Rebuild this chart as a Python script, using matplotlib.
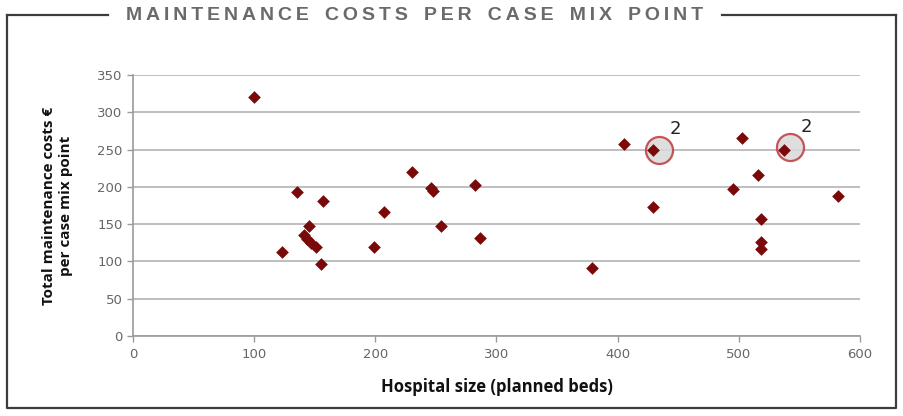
import matplotlib
matplotlib.use("Agg")
import matplotlib.pyplot as plt
from matplotlib.lines import Line2D

# hospital size (planned beds) vs maintenance cost per case mix point
beds = [100, 123, 135, 141, 145, 144, 147, 151, 157, 155, 199, 207, 230, 246, 248, 254,
        282, 286, 379, 405, 429, 429, 495, 503, 516, 518, 518, 518, 537, 582]
cost = [321, 112, 193, 135, 148, 130, 125, 120, 181, 96, 120, 166, 220, 199, 195, 148,
        203, 131, 91, 257, 249, 173, 197, 266, 216, 157, 126, 116, 249, 188]
# points that stand for two hospitals
dup_x = [434, 542]
dup_y = [250, 253]
dup_label = ["2", "2"]

TITLE = "MAINTENANCE COSTS PER CASE MIX POINT"

RED = "#7a0a0a"
GRID = "#b4b4b4"
TICK = "#666666"

fig = plt.figure(figsize=(9.04, 4.16), dpi=100)
ax = fig.add_axes([133/904, 1 - 336/416, 727/904, 261/416])

ax.set_xlim(0, 600); ax.set_ylim(0, 350)
ax.set_yticks(range(0, 351, 50)); ax.set_xticks(range(0, 601, 100))
ax.grid(axis="y", color=GRID, lw=1.2)
ax.set_axisbelow(True)
for s in ("top", "right"):
    ax.spines[s].set_visible(False)
for s in ("left", "bottom"):
    ax.spines[s].set_color("#9a9a9a"); ax.spines[s].set_linewidth(1.2)
ax.tick_params(colors="#9a9a9a", labelcolor=TICK, labelsize=9.5, length=4, width=1)
ax.tick_params(axis="x", pad=5)

ax.scatter(dup_x, dup_y, s=380, facecolor="#d9d9d9", edgecolor="#c0393b", lw=1.6, zorder=2, alpha=0.85)
ax.scatter(beds, cost, marker="D", s=42, color=RED, zorder=3, linewidths=0)
for x, y, t in zip(dup_x, dup_y, dup_label):
    ax.annotate(t, (x, y), xytext=(8, 8), textcoords="offset points", fontsize=13,
                color="#222222", ha="left", va="bottom")

ax.set_xlabel("Hospital size (planned beds)", fontsize=12, fontweight="bold",
              family="Open Sans", color="#111111")
ax.xaxis.set_label_coords(0.5, -0.161)
ax.set_ylabel("Total maintenance costs €\nper case mix point", fontsize=11, fontweight="bold",
              family="Open Sans", color="#111111", linespacing=1.25)
ax.yaxis.set_label_coords(-0.0825, 0.5)

# frame with title breaking the top edge
fc = "#3c3c3c"
L, R, T, B = 7/904, 896/904, 1 - 15/416, 1 - 408/416
for xs, ys in [([L, L, R, R], [T, B, B, T]), ([L, 108/904], [T, T]), ([722/904, R], [T, T])]:
    fig.add_artist(Line2D(xs, ys, color=fc, lw=1.6, transform=fig.transFigure))
spaced = "\u2009".join(TITLE).replace("\u2009 \u2009", "   ")
fig.text(415/904, T, spaced, ha="center", va="center",
         fontsize=14, fontweight="bold", color="#6a6a6a", family="Liberation Sans")

fig.savefig("out.png", dpi=100)
